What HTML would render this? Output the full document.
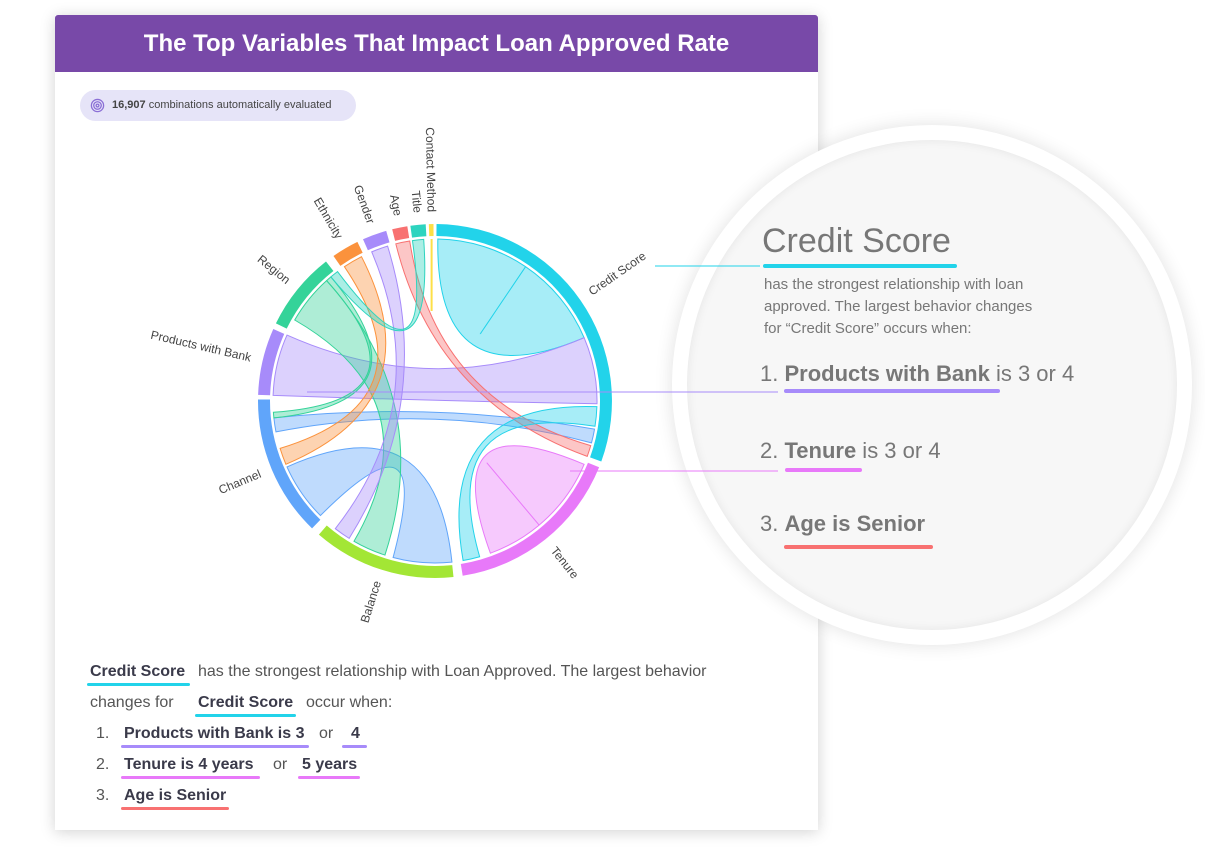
<!DOCTYPE html>
<html><head><meta charset="utf-8"><style>
body{margin:0;width:1205px;height:849px;background:#fff;position:relative;overflow:hidden;font-family:"Liberation Sans",sans-serif}
.abs{position:absolute}
.card{left:55px;top:15px;width:763px;height:815px;background:#fff;box-shadow:0 2px 14px rgba(0,0,0,.18)}
.hdr{left:55px;top:15px;width:763px;height:57px;background:#7849a8;color:#fff;font-weight:bold;font-size:24px;text-align:center;line-height:58px;border-radius:3px 3px 0 0}
.pill{left:80px;top:90px;width:276px;height:31px;background:#e6e4f8;border-radius:16px;font-size:11px;color:#444;line-height:31px}
.t{font-size:16px;color:#555;white-space:nowrap}
.b{font-weight:bold;color:#3a3a4a}
.ul{height:3px;border-radius:2px}
.mag{left:672px;top:125px;width:520px;height:520px;border-radius:50%;background:#fff;box-shadow:0 0 18px rgba(0,0,0,.12)}
.mag2{left:687px;top:140px;width:490px;height:490px;border-radius:50%;background:#f7f7f7;box-shadow:inset 0 0 10px rgba(0,0,0,.08)}
.g{color:#777;white-space:nowrap}
</style></head><body>
<div class="abs card"></div>
<div class="abs hdr">The Top Variables That Impact Loan Approved Rate</div>
<div class="abs pill">
<svg class="abs" style="left:10px;top:8px" width="15" height="15" viewBox="0 0 16 16"><g fill="none" stroke="#8b6fd6" stroke-width="1.4"><circle cx="8" cy="8" r="6.5"/><circle cx="8" cy="8" r="4"/><circle cx="8" cy="8" r="1.5"/></g></svg>
<span style="position:absolute;left:32px"><b>16,907</b> combinations automatically evaluated</span></div>

<svg class="abs" style="left:0;top:0" width="820" height="640" id="chord"></svg>

<div class="abs mag"></div>
<div class="abs mag2"></div>
<svg class="abs" style="left:0;top:0" width="1205" height="849">
<line x1="655" y1="266" x2="760" y2="266" stroke="#22d3ea" stroke-width="1"/>
<line x1="307" y1="392" x2="778" y2="392" stroke="#a78bfa" stroke-width="1"/>
<line x1="570" y1="471" x2="778" y2="471" stroke="#e879f9" stroke-width="1"/>
</svg>
<div class="abs g" style="left:762px;top:222px;font-size:34px">Credit Score</div>
<div class="abs ul" style="left:763px;top:264px;width:194px;height:4px;background:#22d3ea"></div>
<div class="abs g" style="left:764px;top:274px;font-size:15px;line-height:22px;color:#777">has the strongest relationship with loan<br>approved. The largest behavior changes<br>for “Credit Score” occurs when:</div>
<div class="abs g" style="left:760px;top:361px;font-size:22px">1. <b>Products with Bank</b> is 3 or 4</div>
<div class="abs ul" style="left:784px;top:389px;width:216px;height:4px;background:#a78bfa"></div>
<div class="abs g" style="left:760px;top:438px;font-size:22px">2. <b>Tenure</b> is 3 or 4</div>
<div class="abs ul" style="left:785px;top:468px;width:77px;height:4px;background:#e879f9"></div>
<div class="abs g" style="left:760px;top:511px;font-size:22px">3. <b>Age is Senior</b></div>
<div class="abs ul" style="left:784px;top:545px;width:149px;height:4px;background:#f87171"></div>

<div>
<div class="abs t b" style="left:90px;top:663px">Credit Score</div>
<div class="abs ul" style="left:87px;top:683px;width:103px;background:#22d3ea"></div>
<div class="abs t" style="left:198px;top:663px">has the strongest relationship with Loan Approved. The largest behavior</div>
<div class="abs t" style="left:90px;top:694px">changes for</div>
<div class="abs t b" style="left:198px;top:694px">Credit Score</div>
<div class="abs ul" style="left:195px;top:714px;width:101px;background:#22d3ea"></div>
<div class="abs t" style="left:306px;top:694px">occur when:</div>
<div class="abs t" style="left:96px;top:725px">1.</div>
<div class="abs t b" style="left:124px;top:725px">Products with Bank is 3</div>
<div class="abs ul" style="left:121px;top:745px;width:188px;background:#a78bfa"></div>
<div class="abs t" style="left:319px;top:725px">or</div>
<div class="abs t b" style="left:351px;top:725px">4</div>
<div class="abs ul" style="left:342px;top:745px;width:25px;background:#a78bfa"></div>
<div class="abs t" style="left:96px;top:756px">2.</div>
<div class="abs t b" style="left:124px;top:756px">Tenure is 4 years</div>
<div class="abs ul" style="left:121px;top:776px;width:139px;background:#e879f9"></div>
<div class="abs t" style="left:273px;top:756px">or</div>
<div class="abs t b" style="left:302px;top:756px">5 years</div>
<div class="abs ul" style="left:298px;top:776px;width:62px;background:#e879f9"></div>
<div class="abs t" style="left:96px;top:787px">3.</div>
<div class="abs t b" style="left:124px;top:787px">Age is Senior</div>
<div class="abs ul" style="left:121px;top:807px;width:108px;background:#f87171"></div>
</div>

<script>
// group names, start/end angles (degrees clockwise from top), colours
const groupNames=["Credit Score","Tenure","Balance","Channel","Products with Bank","Region","Ethnicity","Gender","Age","Title","Contact Method"];
const groupStart=[0.5,112,174,224,272,296,325,336,346,352,358];
const groupEnd=[110,171,221,270.5,294,322,334,344,351,357,359.5];
const groupColors=["#22d3ea","#e879f9","#a3e635","#60a5fa","#a78bfa","#34d399","#fb923c","#a78bfa","#f87171","#2dd4bf","#fde047"];
// chords: source group, source angles, target group, target angles
const chordSrc=[0,4,3,8,0,1,3,5,7,6,5,9];
const chordSrcA0=[1,272,259,346,92,113,225,300,337,326,318,352];
const chordSrcA1=[34,294,264,351,99,140,246,318,343,333,320,356];
const chordTgt=[0,0,0,0,1,1,2,2,2,3,3,5];
const chordTgtA0=[34,67,100,106,164,140,174,198,212,247,264,320];
const chordTgtA1=[67,91,105,110,170,160,195,210,218,253,266,323];

const cx=435,cy=401,rOut=177,rIn=165,rRib=162;
const svg=document.getElementById('chord');
const NS="http://www.w3.org/2000/svg";
const rad=d=>d*Math.PI/180;
const px=(r,a)=>[cx+r*Math.sin(rad(a)),cy-r*Math.cos(rad(a))];
function arcPath(r,a0,a1){const p=px(r,a1);return `A${r},${r} 0 ${(a1-a0)>180?1:0} 1 ${p[0].toFixed(1)},${p[1].toFixed(1)}`;}
chordSrc.forEach((s,i)=>{
  const a0=chordSrcA0[i],a1=chordSrcA1[i],b0=chordTgtA0[i],b1=chordTgtA1[i];
  const p0=px(rRib,a0),pb0=px(rRib,b0),pa0=px(rRib,a0);
  const d=`M${p0[0]},${p0[1]} ${arcPath(rRib,a0,a1)} Q${cx},${cy} ${pb0[0]},${pb0[1]} ${arcPath(rRib,b0,b1)} Q${cx},${cy} ${pa0[0]},${pa0[1]}Z`;
  const el=document.createElementNS(NS,'path');
  el.setAttribute('d',d);
  const c=groupColors[s];
  el.setAttribute('fill',c);el.setAttribute('fill-opacity','0.4');
  el.setAttribute('stroke',c);el.setAttribute('stroke-width','1');
  
  
  svg.appendChild(el);
});
// contact method stub
const stub=document.createElementNS(NS,'line');
const sp=px(rRib,358.8);
stub.setAttribute('x1',sp[0]);stub.setAttribute('y1',sp[1]);stub.setAttribute('x2',sp[0]);stub.setAttribute('y2',cy-90);
stub.setAttribute('stroke','#fde047');stub.setAttribute('stroke-width','2');


svg.appendChild(stub);
groupNames.forEach((n,i)=>{
  const a0=groupStart[i],a1=groupEnd[i];
  const o0=px(rOut,a0),i1=px(rIn,a1);
  const d=`M${o0[0]},${o0[1]} ${arcPath(rOut,a0,a1)} L${i1[0]},${i1[1]} A${rIn},${rIn} 0 ${(a1-a0)>180?1:0} 0 ${px(rIn,a0).join(',')}Z`;
  const el=document.createElementNS(NS,'path');
  el.setAttribute('d',d);el.setAttribute('fill',groupColors[i]);
  
  
  svg.appendChild(el);
  const m=(a0+a1)/2,lp=px(rOut+12,m);
  const t=document.createElementNS(NS,'text');
  const right=m<180;
  const rot=right?m-90:m+90;
  t.setAttribute('transform',`translate(${lp[0]},${lp[1]}) rotate(${rot})`);
  t.setAttribute('text-anchor',right?'start':'end');
  t.setAttribute('dominant-baseline','middle');
  t.setAttribute('font-size','12');t.setAttribute('fill','#444');
  t.setAttribute('font-family','Liberation Sans, sans-serif');
  t.textContent=n;
  
  
  svg.appendChild(t);
});
</script>
</body></html>
